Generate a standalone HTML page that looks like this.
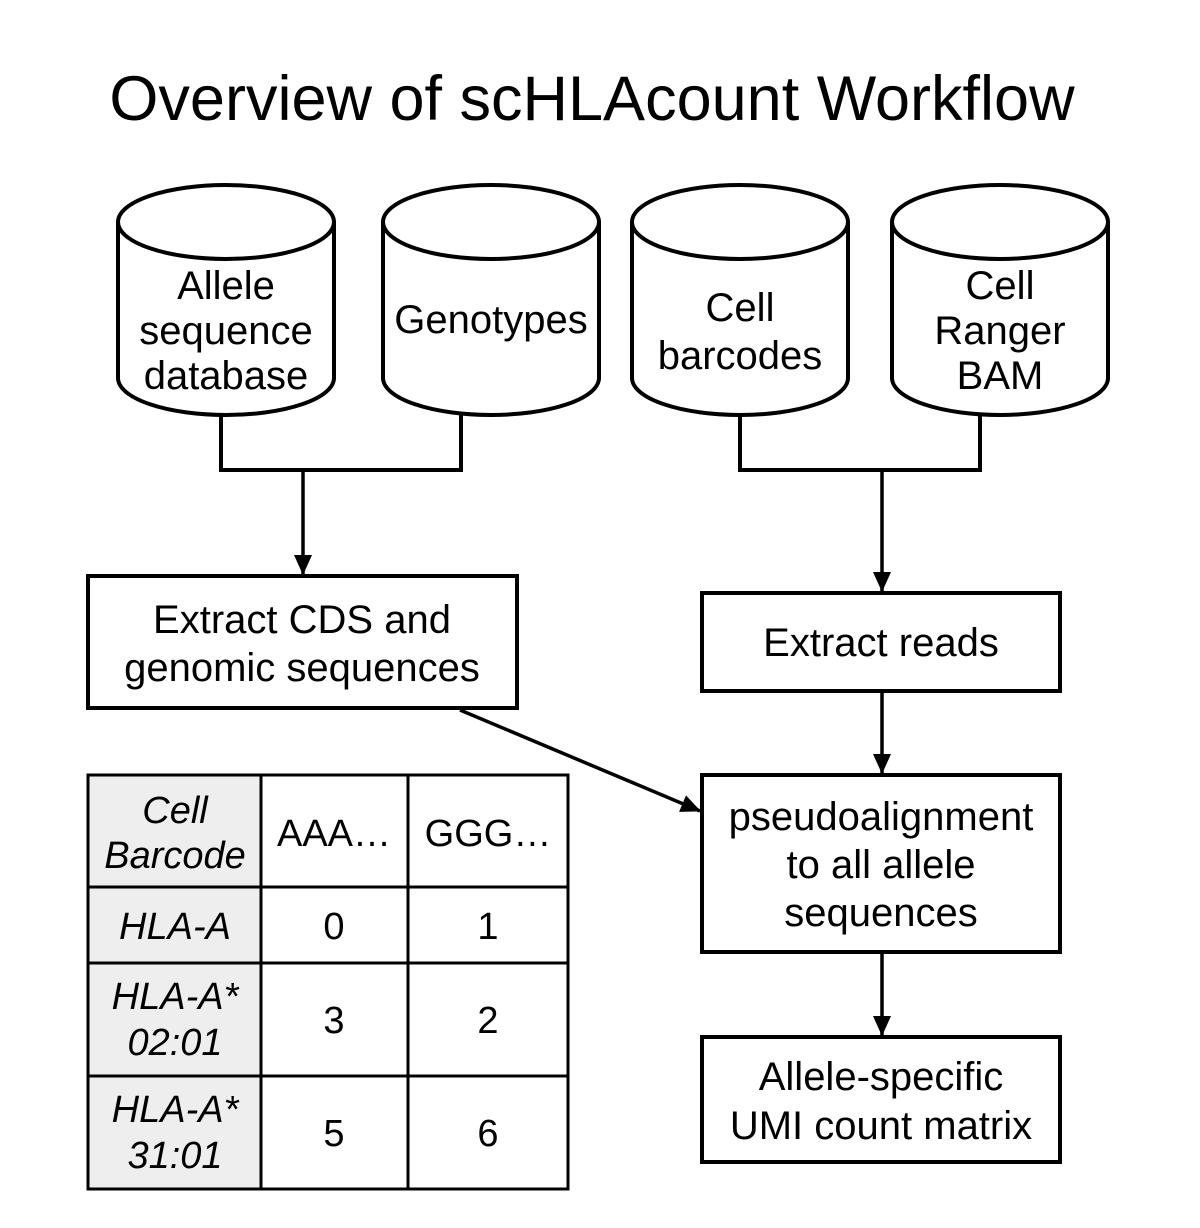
<!DOCTYPE html>
<html><head><style>body{margin:0;background:#fff}svg{display:block}text{font-family:"Liberation Sans",Arial,sans-serif;fill:#000}</style></head><body>
<svg width="1200" height="1228" viewBox="0 0 1200 1228" xmlns="http://www.w3.org/2000/svg">
<defs><marker id="a" markerWidth="20" markerHeight="18" refX="19" refY="9" orient="auto" markerUnits="userSpaceOnUse" viewBox="0 0 20 18"><path d="M0,0 L20,9 L0,18z" fill="#000"/></marker></defs>
<text x="592" y="120" font-size="63" text-anchor="middle">Overview of scHLAcount Workflow</text>
<g fill="#fff" stroke="#000" stroke-width="4">
<path d="M118,222 A108,37 0 0 1 334,222 L334,378 A108,37 0 0 1 118,378 Z"/><path d="M118,222 A108,37 0 0 0 334,222"/>
<path d="M383,222 A108,37 0 0 1 599,222 L599,378 A108,37 0 0 1 383,378 Z"/><path d="M383,222 A108,37 0 0 0 599,222"/>
<path d="M632,222 A108,37 0 0 1 848,222 L848,378 A108,37 0 0 1 632,378 Z"/><path d="M632,222 A108,37 0 0 0 848,222"/>
<path d="M892,222 A108,37 0 0 1 1108,222 L1108,378 A108,37 0 0 1 892,378 Z"/><path d="M892,222 A108,37 0 0 0 1108,222"/>
<rect x="88" y="576" width="429" height="132"/>
<rect x="702" y="593" width="358" height="98"/>
<rect x="702" y="775" width="358" height="177"/>
<rect x="702" y="1037" width="358" height="125"/>
</g>
<g fill="none" stroke="#000" stroke-width="4">
<path d="M221,415 V470 H461 V415"/>
<path d="M740,415 V470 H980 V415"/>
<path d="M303,470 V574" marker-end="url(#a)" stroke-width="3.5"/>
<path d="M882,470 V591" marker-end="url(#a)" stroke-width="3.5"/>
<path d="M882,691 V773" marker-end="url(#a)" stroke-width="3.5"/>
<path d="M882,952 V1035" marker-end="url(#a)" stroke-width="3.5"/>
<path d="M460,710 L700,811" marker-end="url(#a)" stroke-width="3.5"/>
</g>
<g font-size="40" text-anchor="middle">
<text x="226" y="299">Allele</text><text x="226" y="344">sequence</text><text x="226" y="389">database</text>
<text x="491" y="333">Genotypes</text>
<text x="740" y="321">Cell</text><text x="740" y="369">barcodes</text>
<text x="1000" y="299">Cell</text><text x="1000" y="344">Ranger</text><text x="1000" y="389">BAM</text>
<text x="302" y="633">Extract CDS and</text><text x="302" y="681">genomic sequences</text>
<text x="881" y="656">Extract reads</text>
<text x="881" y="830">pseudoalignment</text><text x="881" y="878">to all allele</text><text x="881" y="926">sequences</text>
<text x="881" y="1090">Allele-specific</text><text x="881" y="1139">UMI count matrix</text>
</g>
<g stroke="#000" stroke-width="3">
<rect x="88" y="775" width="173" height="414" fill="#eee"/>
<rect x="261" y="775" width="307" height="414" fill="#fff"/>
<path d="M408,775 V1189 M88,887 H568 M88,963 H568 M88,1076 H568" fill="none"/>
</g>
<g font-size="38" text-anchor="middle">
<g font-style="italic">
<text x="175" y="823">Cell</text><text x="175" y="868">Barcode</text>
<text x="175" y="939">HLA-A</text>
<text x="175" y="1009">HLA-A*</text><text x="175" y="1055">02:01</text>
<text x="175" y="1122">HLA-A*</text><text x="175" y="1168">31:01</text>
</g>
<text x="334" y="846">AAA…</text><text x="488" y="846">GGG…</text>
<text x="334" y="939">0</text><text x="488" y="939">1</text>
<text x="334" y="1033">3</text><text x="488" y="1033">2</text>
<text x="334" y="1146">5</text><text x="488" y="1146">6</text>
</g>
</svg>
</body></html>
